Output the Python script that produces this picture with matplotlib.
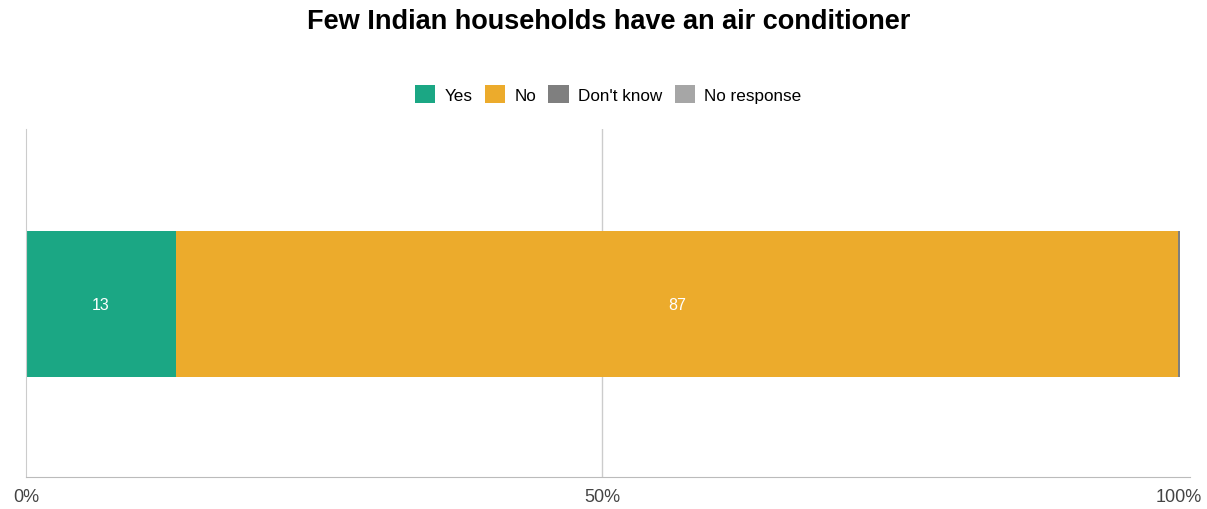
import matplotlib.pyplot as plt
from matplotlib.patches import Patch

plt.rcParams['font.family'] = ['Liberation Sans', 'DejaVu Sans']

categories = ["Yes", "No", "Don't know", "No response"]
values = [13, 87, 0.1, 0]
colors = ["#1ba784", "#ecab2c", "#7f7f7f", "#a6a6a6"]
bar_labels = ["13", "87", "", ""]

fig = plt.figure(figsize=(12.07, 5.10), dpi=100)
ax = fig.add_axes([26/1207, 1 - 478/510, (1190-26)/1207, (478-130)/510])

left = 0
for cat, v, c, lab in zip(categories, values, colors, bar_labels):
    ax.barh(0, v, left=left, height=0.417, color=c, zorder=2)
    if lab:
        ax.text(left + v/2, 0, lab, ha='center', va='center', color='white', fontsize=11.5)
    left += v

ax.set_xlim(0, 101)
ax.set_ylim(-0.497, 0.503)
ax.set_yticks([])
ax.set_xticks([0, 50, 100])
ax.set_xticklabels(["0%", "50%", "100%"], fontsize=13, color='#444444')
ax.tick_params(axis='x', length=0, pad=8)
ax.axvline(50, color='#cccccc', linewidth=1, zorder=0)
for s in ['top', 'right']:
    ax.spines[s].set_visible(False)
ax.spines['left'].set_color('#cccccc')
ax.spines['bottom'].set_color('#bbbbbb')

handles = [Patch(facecolor=c, label=cat) for cat, c in zip(categories, colors)]
fig.legend(handles=handles, loc='center', bbox_to_anchor=(0.504, 1 - 95/510), ncol=4,
           frameon=False, fontsize=12.3, handlelength=1.2, handleheight=1.3,
           handletextpad=0.55, columnspacing=0.7)

fig.text(0.504, 1 - 22/510, "Few Indian households have an air conditioner",
         ha='center', va='center', fontsize=19.5, fontweight='bold')

fig.savefig("out.png", dpi=100)
